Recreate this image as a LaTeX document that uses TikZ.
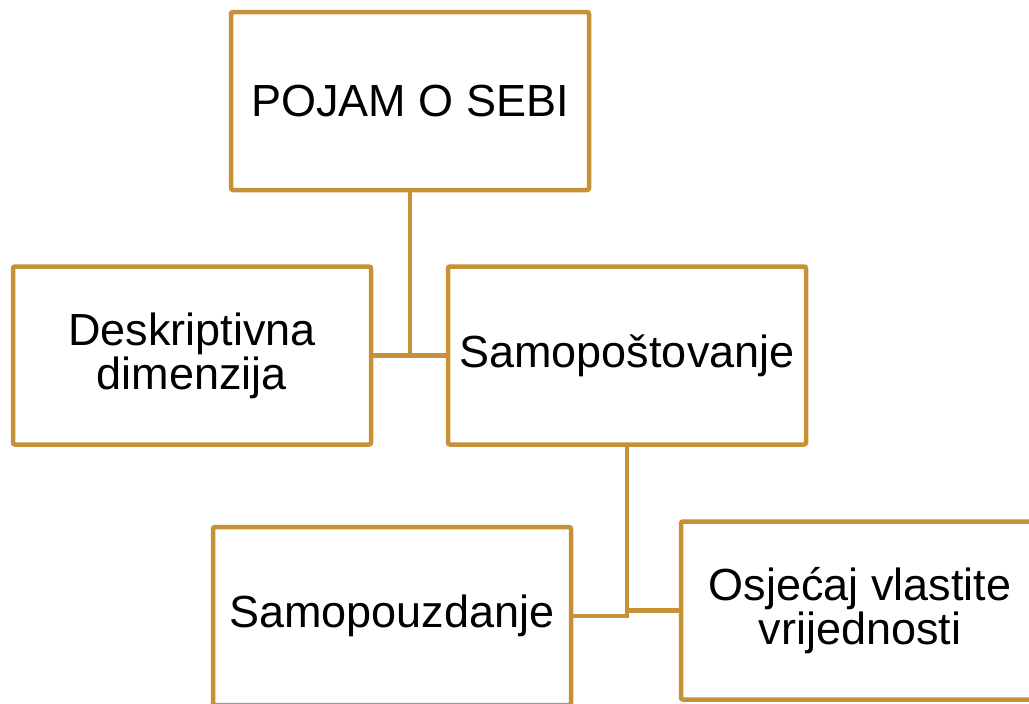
\documentclass[tikz,border=0pt]{standalone}
\usepackage{fontspec}
\setmainfont{Liberation Sans}
\usepackage{xcolor}
\definecolor{conceptgold}{RGB}{197, 146, 56}

\tikzset{
  conceptbox/.style={draw=conceptgold, line width=4.5pt, rounded corners=2pt, fill=white,
    minimum width=358pt, minimum height=178pt, align=center, inner sep=0pt,
    font=\fontsize{45}{44}\selectfont},
  link/.style={draw=conceptgold, line width=4.5pt}
}

\begin{document}
\begin{tikzpicture}[x=1pt, y=-1pt]
\useasboundingbox (0,0) rectangle (1029,704);
\clip (0,0) rectangle (1029,704);

\node[conceptbox] (pojam) at (410,101) {POJAM O SEBI};
\node[conceptbox] (deskriptivna) at (192,355.5) {Deskriptivna\\dimenzija};
\node[conceptbox] (samopostovanje) at (627,355.5) {Samopoštovanje};
\node[conceptbox] (samopouzdanje) at (392,616) {Samopouzdanje};
\node[conceptbox] (osjecaj) at (860,610.5) {Osjećaj vlastite\\vrijednosti};

% connectors
\draw[link] (pojam.south) -- (pojam.south |- deskriptivna.east);
\draw[link] (deskriptivna.east) -- (samopostovanje.west);
\draw[link] (samopouzdanje.east) -| (samopostovanje.south);
\draw[link] (osjecaj.west) -- (osjecaj.west -| samopostovanje.south);
\end{tikzpicture}
\end{document}
